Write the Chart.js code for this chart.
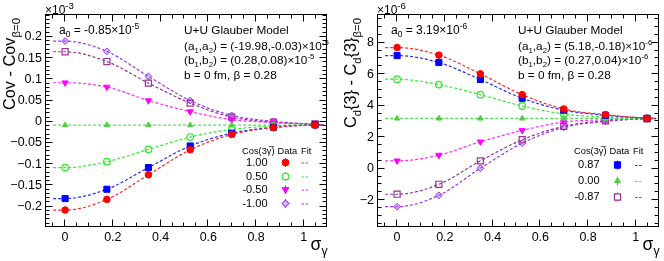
<!DOCTYPE html>
<html lang="en">
<head>
<meta charset="UTF-8">
<title>U+U Glauber Model - sigma gamma scan</title>
<script src="https://cdn.jsdelivr.net/npm/chart.js"></script>
<style>
  body { margin: 0; background: #fff; }
  canvas { position: absolute; top: 0; }
</style>
</head>
<body>
<canvas id="covChart" width="332" height="261" style="left:0"></canvas>
<canvas id="cdChart" width="332" height="261" style="left:332px"></canvas>
<script>
// sigma_gamma points (10 degree steps) and the x range covered by the fit curves
const sigma = [0, 0.175, 0.349, 0.524, 0.698, 0.873, 1.047];
const fitSigma = [-0.05, 0, 0.175, 0.349, 0.524, 0.698, 0.873, 1.047, 1.085];
const xTicks = [0, 0.2, 0.4, 0.6, 0.8, 1];

// left pad: Cov - Cov(beta=0), in units of 1e-3
const covTicks = [-0.2, -0.15, -0.1, -0.05, 0, 0.05, 0.1, 0.15, 0.2];
const cov_p100 = [-0.208, -0.183, -0.125, -0.066, -0.030, -0.014, -0.008];
const cov_p087 = [-0.181, -0.159, -0.108, -0.057, -0.027, -0.013, -0.007];
const cov_p050 = [-0.108, -0.094, -0.065, -0.036, -0.018, -0.010, -0.007];
const cov_000  = [-0.008, -0.008, -0.008, -0.008, -0.008, -0.008, -0.008];
const cov_m050 = [0.092, 0.082, 0.050, 0.024, 0.005, -0.002, -0.006];
const cov_m087 = [0.165, 0.142, 0.091, 0.044, 0.011, -0.001, -0.005];
const cov_m100 = [0.190, 0.166, 0.107, 0.050, 0.015, 0.001, -0.005];

const covFit_p100 = [-0.208, -0.208, -0.183, -0.125, -0.066, -0.030, -0.014, -0.008, -0.008];
const covFit_p087 = [-0.181, -0.181, -0.159, -0.108, -0.057, -0.027, -0.013, -0.008, -0.008];
const covFit_p050 = [-0.108, -0.108, -0.094, -0.065, -0.036, -0.018, -0.010, -0.008, -0.008];
const covFit_000  = [-0.008, -0.008, -0.008, -0.008, -0.008, -0.008, -0.008, -0.008, -0.008];
const covFit_m050 = [0.092, 0.092, 0.082, 0.050, 0.024, 0.005, -0.002, -0.006, -0.007];
const covFit_m087 = [0.165, 0.165, 0.142, 0.091, 0.044, 0.011, -0.001, -0.006, -0.007];
const covFit_m100 = [0.190, 0.190, 0.166, 0.107, 0.050, 0.015, 0.001, -0.006, -0.007];

// right pad: Cd{3} - Cd{3}(beta=0), in units of 1e-6
const cdTicks = [-2, 0, 2, 4, 6, 8];
const cd_p100 = [7.69, 7.21, 6.02, 4.70, 3.79, 3.43, 3.20];
const cd_p087 = [7.18, 6.74, 5.66, 4.47, 3.71, 3.39, 3.20];
const cd_p050 = [5.68, 5.34, 4.70, 3.98, 3.47, 3.28, 3.20];
const cd_000  = [3.19, 3.19, 3.19, 3.19, 3.19, 3.19, 3.19];
const cd_m050 = [0.50, 0.86, 1.71, 2.43, 2.96, 3.11, 3.17];
const cd_m087 = [-1.62, -0.99, 0.50, 1.84, 2.69, 3.04, 3.17];
const cd_m100 = [-2.41, -1.69, 0.03, 1.62, 2.62, 3.01, 3.17];

const cdFit_p100 = [7.69, 7.69, 7.21, 6.02, 4.70, 3.79, 3.43, 3.21, 3.20];
const cdFit_p087 = [7.18, 7.18, 6.74, 5.66, 4.47, 3.71, 3.39, 3.21, 3.20];
const cdFit_p050 = [5.68, 5.68, 5.34, 4.70, 3.98, 3.47, 3.28, 3.20, 3.20];
const cdFit_000  = [3.19, 3.19, 3.19, 3.19, 3.19, 3.19, 3.19, 3.19, 3.19];
const cdFit_m050 = [0.50, 0.50, 0.86, 1.71, 2.43, 2.96, 3.11, 3.17, 3.18];
const cdFit_m087 = [-1.62, -1.62, -0.99, 0.50, 1.84, 2.69, 3.04, 3.17, 3.18];
const cdFit_m100 = [-2.41, -2.41, -1.69, 0.03, 1.62, 2.62, 3.01, 3.17, 3.18];

const cosKeys = ['1.00', '0.87', '0.50', '0.00', '-0.50', '-0.87', '-1.00'];

const markers = {
  '1.00':  { color: '#ff0000', line: '#ff2a2a', fill: '#ff0000', style: 'circle',   rot: 0,   r: 3.3 },
  '0.87':  { color: '#0000ff', line: '#2a2aff', fill: '#0000ff', style: 'rect',     rot: 0,   r: 4.3 },
  '0.50':  { color: '#2ee82e', line: '#33ee33', fill: null,      style: 'circle',   rot: 0,   r: 3.3 },
  '0.00':  { color: '#55cc44', line: '#55dd55', fill: '#55cc44', style: 'triangle', rot: 0,   r: 3.2 },
  '-0.50': { color: '#ff00ff', line: '#ff2aff', fill: '#ff00ff', style: 'triangle', rot: 180, r: 3.6 },
  '-0.87': { color: '#993399', line: '#993399', fill: null,      style: 'rect',     rot: 0,   r: 4.3 },
  '-1.00': { color: '#9933ff', line: '#9933ff', fill: 'rgba(170,100,255,0.45)', style: 'rectRot', rot: 0, r: 3.4 }
};

const FONT = '"Liberation Sans", Arial, sans-serif';

function buildSets(data, fits) {
  const sets = [];
  cosKeys.forEach((k, i) => {
    const m = markers[k];
    sets.push({
      data: fitSigma.map((x, j) => ({ x, y: fits[i][j] })),
      showLine: true, pointRadius: 0, borderColor: m.line, borderWidth: 1.2,
      borderDash: [3, 2], cubicInterpolationMode: 'monotone', order: 2
    });
    sets.push({
      data: sigma.map((x, j) => ({ x, y: data[i][j] })),
      showLine: false, pointStyle: m.style, pointRadius: m.r, pointRotation: m.rot,
      pointBackgroundColor: m.fill || 'rgba(255,255,255,0)',
      pointBorderColor: m.color, pointBorderWidth: m.fill ? 1 : 1.2, order: 1
    });
  });
  return sets;
}

// tiny latex-ish parser: _{..} subscript, ^{..} superscript
function parse(str) {
  const out = [];
  const re = /(_|\^)\{([^}]*)\}|([^_^]+)/g;
  let m;
  while ((m = re.exec(str))) {
    if (m[3]) out.push([m[3], '']);
    else out.push([m[2], m[1] === '_' ? 'sub' : 'sup']);
  }
  return out;
}

function drawRich(ctx, x, y, str, size, align, scriptScale) {
  const sc = scriptScale || 0.7;
  const seg = parse(str).map(p => {
    const s = p[1] ? size * sc : size;
    ctx.font = s + 'px ' + FONT;
    return { t: p[0], s, w: ctx.measureText(p[0]).width,
      dy: p[1] === 'sub' ? size * 0.28 : p[1] === 'sup' ? -size * 0.42 : 0 };
  });
  const total = seg.reduce((a, g) => a + g.w, 0);
  let cx = align === 'right' ? x - total : x;
  ctx.textAlign = 'left';
  ctx.textBaseline = 'alphabetic';
  seg.forEach(g => {
    ctx.font = g.s + 'px ' + FONT;
    ctx.fillText(g.t, cx, y + g.dy);
    cx += g.w;
  });
}

function drawMarker(ctx, k, x, y) {
  const m = markers[k];
  ctx.save();
  ctx.fillStyle = '#fff';
  ctx.strokeStyle = m.color;
  ctx.lineWidth = m.fill ? 1 : 1.2;
  ctx.setLineDash([]);
  const opts = { pointStyle: m.style, radius: m.r, rotation: m.rot, borderWidth: 1 };
  Chart.helpers.drawPoint(ctx, opts, x, y);
  if (m.fill) {
    ctx.fillStyle = m.fill;
    Chart.helpers.drawPoint(ctx, opts, x, y);
  }
  ctx.restore();
}

function rootPad(cfg) {
  return {
    id: 'rootPad',
    afterDraw(chart) {
      const { ctx, chartArea: a, scales: { x, y } } = chart;
      const L = Math.round(a.left) - 0.5, R = Math.round(a.right) - 0.5;
      const T = Math.round(a.top) + 0.5, B = Math.round(a.bottom) - 0.5;
      ctx.save();
      ctx.strokeStyle = '#000';
      ctx.fillStyle = '#000';
      ctx.lineWidth = 1;
      ctx.setLineDash([]);
      ctx.strokeRect(L, T, R - L, B - T);

      ctx.beginPath();
      // x ticks, bottom and top
      for (let v = -0.05; v <= 1.08; v += 0.05) {
        const px = Math.round(x.getPixelForValue(v)) - 0.5;
        const major = xTicks.some(t => Math.abs(t - v) < 1e-6);
        const len = major ? 7 : 4;
        ctx.moveTo(px, B); ctx.lineTo(px, B - len);
        ctx.moveTo(px, T); ctx.lineTo(px, T + len);
      }
      // y ticks, left and right
      for (let v = cfg.minorStart; v <= y.max; v += cfg.minorStep) {
        const py = Math.round(y.getPixelForValue(v)) - 0.5;
        if (py < T || py > B) continue;
        const major = cfg.yTicks.some(t => Math.abs(t - v) < 1e-6);
        const len = major ? 7 : 4;
        ctx.moveTo(L, py); ctx.lineTo(L + len, py);
        ctx.moveTo(R, py); ctx.lineTo(R - len, py);
      }
      ctx.stroke();

      // exponent above the y axis
      drawRich(ctx, a.left - 1, 14, cfg.exponent, 12, 'left', 0.8);

      // y title (rotated)
      ctx.save();
      ctx.translate(cfg.titleX, 18);
      ctx.rotate(-Math.PI / 2);
      drawRich(ctx, 0, 0, cfg.yTitle, 16.3, 'right');
      ctx.restore();

      // x title
      drawRich(ctx, a.right + 1, 250, '\u03c3_{\u03b3}', 17.5, 'right');

      // annotations
      drawRich(ctx, 59, 34, cfg.a0, 12, 'left');
      cfg.info.forEach((t, i) => drawRich(ctx, cfg.infoX, cfg.infoY[i], t, 11.8, 'left', 0.66));

      // legend
      ctx.font = '9.3px ' + FONT;
      ctx.textBaseline = 'middle';
      ctx.textAlign = 'left';
      ctx.fillText('Cos(3\u03b3\u0305)', 242, 151);
      ctx.fillText('Data', 277.5, 151);
      ctx.fillText('Fit', 301, 151);
      cfg.legend.forEach((k, i) => {
        const ry = cfg.legendY[i];
        ctx.font = '11px ' + FONT;
        ctx.textAlign = 'right';
        ctx.fillStyle = '#000';
        ctx.fillText(k, 267.5, ry);
        const m = markers[k];
        ctx.strokeStyle = m.color;
        ctx.lineWidth = 1;
        ctx.setLineDash([]);
        ctx.beginPath();
        ctx.moveTo(285.5, ry - 4.5); ctx.lineTo(285.5, ry + 4.5);
        ctx.stroke();
        drawMarker(ctx, k, 285.5, ry);
        ctx.strokeStyle = m.line;
        ctx.setLineDash([2.5, 1.5]);
        ctx.beginPath();
        ctx.moveTo(cfg.fitX, ry + 0.5); ctx.lineTo(cfg.fitX + 7, ry + 0.5);
        ctx.stroke();
        ctx.fillStyle = '#000';
      });
      ctx.restore();
    }
  };
}

function fmt(v) {
  return (v < 0 ? '\u2212' : '') + String(Math.abs(v));
}

function makeChart(id, sets, yMin, yMax, yTicks, pad) {
  const tickFont = { family: FONT, size: 12.5 };
  return new Chart(document.getElementById(id), {
    type: 'scatter',
    data: { datasets: sets },
    options: {
      responsive: false,
      animation: false,
      events: [],
      devicePixelRatio: 1,
      layout: { padding: { top: 14, right: 3, left: 0, bottom: 0 } },
      plugins: { legend: { display: false }, tooltip: { enabled: false } },
      scales: {
        x: {
          type: 'linear', min: -0.08, max: 1.095,
          grid: { display: false, drawTicks: false }, border: { display: false },
          afterBuildTicks: s => { s.ticks = xTicks.map(v => ({ value: v })); },
          afterFit: s => { s.height = 34; },
          ticks: { padding: 3, font: tickFont, color: '#000', maxRotation: 0, autoSkip: false, callback: v => fmt(v) }
        },
        y: {
          type: 'linear', min: yMin, max: yMax,
          grid: { display: false, drawTicks: false }, border: { display: false },
          afterBuildTicks: s => { s.ticks = yTicks.map(v => ({ value: v })); },
          afterFit: s => { s.width = 46; },
          ticks: { padding: 4, font: tickFont, color: '#000', autoSkip: false, callback: v => fmt(v) }
        }
      }
    },
    plugins: [rootPad(pad)]
  });
}

makeChart('covChart',
  buildSets([cov_p100, cov_p087, cov_p050, cov_000, cov_m050, cov_m087, cov_m100],
            [covFit_p100, covFit_p087, covFit_p050, covFit_000, covFit_m050, covFit_m087, covFit_m100]),
  -0.248, 0.254, covTicks, {
    yTicks: covTicks, minorStart: -0.24, minorStep: 0.01,
    exponent: '\u00d710^{-3}', yTitle: 'Cov - Cov_{\u03b2=0}', titleX: 15,
    a0: 'a_{0} = -0.85\u00d710^{-5}',
    info: ['U+U Glauber Model', '(a_{1},a_{2}) = (-19.98,-0.03)\u00d710^{-5}',
           '(b_{1},b_{2}) = (0.28,0.08)\u00d710^{-5}', 'b = 0 fm, \u03b2 = 0.28'],
    infoX: 184, infoY: [34, 49.5, 63.5, 78.5],
    legend: ['1.00', '0.50', '-0.50', '-1.00'], legendY: [162.5, 176.5, 189.5, 203.5], fitX: 301.5
  });

makeChart('cdChart',
  buildSets([cd_p100, cd_p087, cd_p050, cd_000, cd_m050, cd_m087, cd_m100],
            [cdFit_p100, cdFit_p087, cdFit_p050, cdFit_000, cdFit_m050, cdFit_m087, cdFit_m100]),
  -3.7, 9.82, cdTicks, {
    yTicks: cdTicks, minorStart: -3.5, minorStep: 0.5,
    exponent: '\u00d710^{-6}', yTitle: 'C_{d}{3} - C_{d}{3}_{\u03b2=0}', titleX: 24,
    a0: 'a_{0} = 3.19\u00d710^{-6}',
    info: ['U+U Glauber Model', '(a_{1},a_{2}) = (5.18,-0.18)\u00d710^{-6}',
           '(b_{1},b_{2}) = (0.27,0.04)\u00d710^{-6}', 'b = 0 fm, \u03b2 = 0.28'],
    infoX: 186, infoY: [34, 49.5, 63.5, 78.5],
    legend: ['0.87', '0.00', '-0.87'], legendY: [165, 181, 197], fitX: 303
  });
</script>
</body>
</html>
